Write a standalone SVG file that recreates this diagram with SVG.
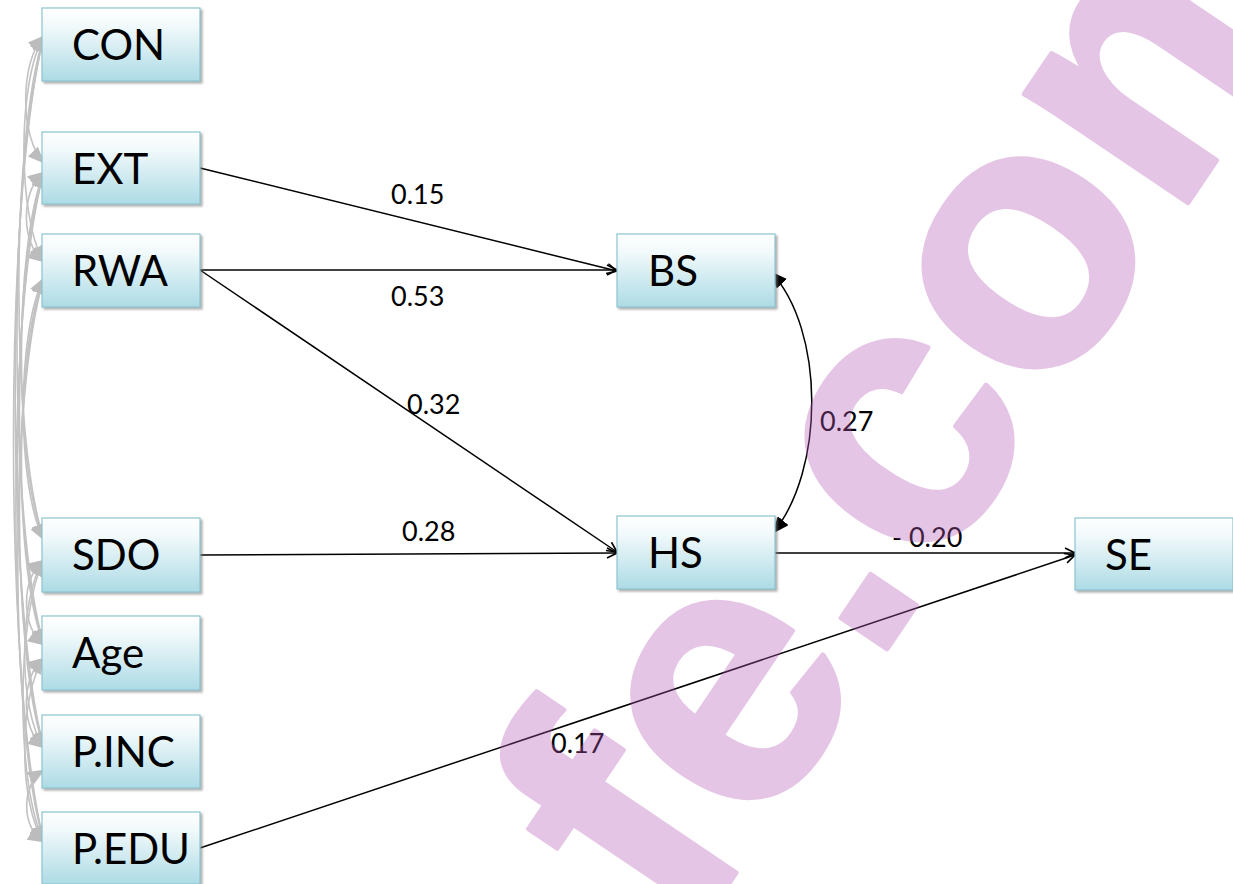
<svg xmlns="http://www.w3.org/2000/svg" width="1233" height="884" viewBox="0 0 1233 884">
  <defs>
    <linearGradient id="boxFill" x1="0" y1="0" x2="0" y2="1">
      <stop offset="0" stop-color="#ffffff"/>
      <stop offset="0.25" stop-color="#f1f9fb"/>
      <stop offset="1" stop-color="#addbe5"/>
    </linearGradient>
    <filter id="shadow" x="-5%" y="-5%" width="115%" height="120%">
      <feDropShadow dx="2" dy="2" stdDeviation="1" flood-color="#7a7a7a" flood-opacity="0.6"/>
    </filter>
    <marker id="open" viewBox="0 0 12 12" refX="11" refY="6" markerWidth="12" markerHeight="12" markerUnits="userSpaceOnUse" orient="auto">
      <path d="M1,1 L11,6 L1,11" fill="none" stroke="#000" stroke-width="1.6"/>
    </marker>
    <marker id="solid" viewBox="0 0 17 14" refX="16" refY="7" markerWidth="17" markerHeight="14" markerUnits="userSpaceOnUse" orient="auto-start-reverse">
      <path d="M0,0 L17,7 L0,14 Z" fill="#000"/>
    </marker>
    <marker id="grey" viewBox="0 0 17 14" refX="16" refY="7" markerWidth="17" markerHeight="14" markerUnits="userSpaceOnUse" orient="auto-start-reverse">
      <path d="M0,0 L17,7 L0,14 Z" fill="#bcbcbc"/>
    </marker>
  </defs>
  <style>
    .box { fill: url(#boxFill); stroke: #8cc3cf; stroke-width: 1.2; filter: url(#shadow); }
    .name { font-family: Lato, "Liberation Sans", sans-serif; font-size: 42px; fill: #000; }
    .coef { font-family: Lato, "Liberation Sans", sans-serif; font-size: 27px; fill: #000; }
    .path { fill: none; stroke: #000; stroke-width: 1.5; marker-end: url(#open); }
    .cov { fill: none; stroke: #c2c2c2; stroke-width: 1.6; marker-start: url(#grey); marker-end: url(#grey); }
    .wm { font-family: "Liberation Sans", sans-serif; font-weight: bold; font-size: 372px; fill: #b75bb7; stroke: #b75bb7; stroke-width: 5; stroke-linejoin: round; }
  </style>
  <rect width="1233" height="884" fill="#ffffff"/>

  <!-- covariances among the exogenous variables -->
  <g id="covariances">
    <path class="cov" d="M44,36 C19.6,61 19.6,138 44,163"/>
    <path class="cov" d="M44,36 C17.2,81 17.2,217 44,262"/>
    <path class="cov" d="M44,36 C10.5,137 10.5,439 44,540"/>
    <path class="cov" d="M44,36 C8,158 8,523 44,645"/>
    <path class="cov" d="M44,36 C5.6,178 5.6,606 44,748"/>
    <path class="cov" d="M44,36 C3.3,197 3.3,681 44,842"/>
    <path class="cov" d="M44,172 C20.5,190 20.5,244 44,262"/>
    <path class="cov" d="M44,172 C13.9,246 13.9,466 44,540"/>
    <path class="cov" d="M44,172 C11.3,267 11.3,550 44,645"/>
    <path class="cov" d="M44,172 C8.8,287 8.8,633 44,748"/>
    <path class="cov" d="M44,172 C6.5,306 6.5,708 44,842"/>
    <path class="cov" d="M44,278 C16.4,330 16.4,488 44,540"/>
    <path class="cov" d="M44,278 C13.9,351 13.9,572 44,645"/>
    <path class="cov" d="M44,278 C11.3,372 11.3,654 44,748"/>
    <path class="cov" d="M44,278 C9.1,391 9.1,729 44,842"/>
    <path class="cov" d="M44,560 C20.7,577 20.7,628 44,645"/>
    <path class="cov" d="M44,560 C18.1,598 18.1,710 44,748"/>
    <path class="cov" d="M44,560 C15.9,616 15.9,786 44,842"/>
    <path class="cov" d="M44,658 C20.5,676 20.5,730 44,748"/>
    <path class="cov" d="M44,658 C18.3,695 18.3,805 44,842"/>
    <path class="cov" d="M44,770 C20.9,784 20.9,828 44,842"/>
  </g>

  <!-- structural paths -->
  <g id="connectors">
    <path class="path" d="M200,168 L617,271"/>
    <path class="path" d="M200,270 L617,270"/>
    <path class="path" d="M200,270 L617,552"/>
    <path class="path" d="M200,555 L617,553"/>
    <path class="path" d="M775,553 L1075,553"/>
    <path class="path" d="M200,848 L1075,555"/>
    <path d="M771,272 C825,330 825,470 773,533" fill="none" stroke="#000" stroke-width="1.5" marker-start="url(#solid)" marker-end="url(#solid)"/>
    <text class="coef" x="391" y="204">0.15</text>
    <text class="coef" x="391" y="306">0.53</text>
    <text class="coef" x="407" y="414">0.32</text>
    <text class="coef" x="402" y="541">0.28</text>
    <text class="coef" x="820" y="431">0.27</text>
    <text class="coef" x="892" y="547">- 0.20</text>
    <text class="coef" x="551" y="753">0.17</text>
  </g>

  <g id="CON"><rect class="box" x="42" y="8" width="158" height="73"/><text class="name" x="72" y="60">CON</text></g>
  <g id="EXT"><rect class="box" x="42" y="132" width="158" height="72"/><text class="name" x="72" y="184">EXT</text></g>
  <g id="RWA"><rect class="box" x="42" y="234" width="158" height="73"/><text class="name" x="72" y="286">RWA</text></g>
  <g id="SDO"><rect class="box" x="42" y="518" width="158" height="74"/><text class="name" x="72" y="570">SDO</text></g>
  <g id="Age"><rect class="box" x="42" y="616" width="158" height="74"/><text class="name" x="72" y="668">Age</text></g>
  <g id="PINC"><rect class="box" x="42" y="715" width="158" height="73"/><text class="name" x="72" y="767">P.INC</text></g>
  <g id="PEDU"><rect class="box" x="42" y="812" width="158" height="72"/><text class="name" x="72" y="864">P.EDU</text></g>
  <g id="BS"><rect class="box" x="617" y="234" width="158" height="73"/><text class="name" x="648" y="286">BS</text></g>
  <g id="HS"><rect class="box" x="617" y="516" width="158" height="73"/><text class="name" x="648" y="568">HS</text></g>
  <g id="SE"><rect class="box" x="1075" y="518" width="158" height="72"/><text class="name" x="1105" y="570">SE</text></g>

  <!-- translucent site mark across the figure -->
  <text class="wm" opacity="0.35" transform="translate(688,944) rotate(-56)" x="0" y="0">fe.com</text>
</svg>
